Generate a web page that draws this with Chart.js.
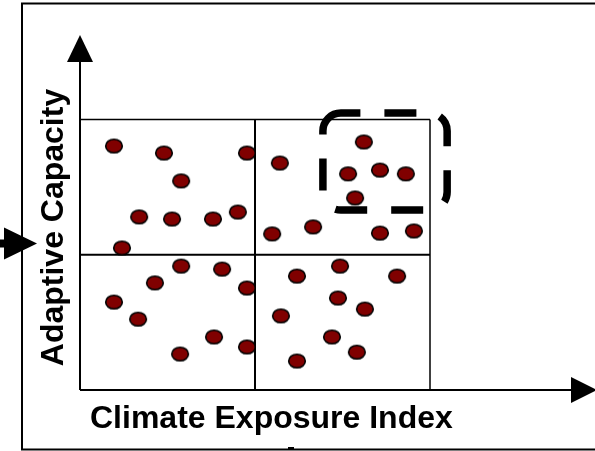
<!DOCTYPE html>
<html>
<head>
<meta charset="utf-8">
<script src="https://cdn.jsdelivr.net/npm/chart.js@4"></script>
<style>
  body { margin: 0; background: #fff; }
  canvas { display: block; }
</style>
</head>
<body>
<canvas id="chart" width="595" height="451"></canvas>
<script>
// Points: climate exposure (x) vs adaptive capacity (y), both on a 0-10 scale
const exposure = [
    0.97, 2.40, 4.77, 2.89, 1.69, 2.63, 3.80, 4.51, 1.20,
    5.71, 8.11, 7.66, 8.57, 9.31, 7.86, 6.66, 5.49, 8.57, 9.54,
    2.89, 4.06, 2.14, 4.77, 0.97, 1.66, 3.83, 4.77, 2.86,
    6.20, 7.43, 9.06, 7.37, 8.14, 5.74, 7.20, 7.91, 6.20
];
const capacity = [
    9.02, 8.76, 8.76, 7.73, 6.40, 6.32, 6.32, 6.58, 5.25,
    8.39, 9.17, 7.99, 8.13, 7.99, 7.10, 6.03, 5.77, 5.80, 5.88,
    4.58, 4.47, 3.96, 3.77, 3.25, 2.62, 1.96, 1.59, 1.33,
    4.21, 4.58, 4.21, 3.40, 2.99, 2.74, 1.96, 1.40, 1.07
];
const quadrantBreaks = [0, 5, 10];
const highlight = { x0: 6.94, x1: 10.49, y0: 6.65, y1: 10.24 }; // dashed box, data units

const xTitle = 'Climate Exposure Index';
const yTitle = 'Adaptive Capacity';

// ellipse marker
const dot = document.createElement('canvas');
dot.width = 20;
dot.height = 17;
const dctx = dot.getContext('2d');
dctx.beginPath();
dctx.ellipse(10, 8.5, 8.3, 6.8, 0, 0, Math.PI * 2);
dctx.fillStyle = '#800000';
dctx.fill();
dctx.lineWidth = 1.6;
dctx.strokeStyle = '#000';
dctx.stroke();

function arrowHead(ctx, tip, b1, b2) {
    ctx.beginPath();
    ctx.moveTo(tip[0], tip[1]);
    ctx.lineTo(b1[0], b1[1]);
    ctx.lineTo(b2[0], b2[1]);
    ctx.closePath();
    ctx.fill();
}

const quadrants = {
    id: 'quadrants',
    beforeDatasetsDraw(chart) {
        const ctx = chart.ctx;
        const xs = chart.scales.x, ys = chart.scales.y;
        ctx.save();
        ctx.strokeStyle = '#000';
        quadrantBreaks.forEach((v, i) => {
            ctx.lineWidth = i === 1 ? 2 : 1.5;
            const px = xs.getPixelForValue(v);
            ctx.beginPath();
            ctx.moveTo(px, ys.getPixelForValue(0));
            ctx.lineTo(px, ys.getPixelForValue(10));
            ctx.stroke();
            const py = ys.getPixelForValue(v);
            ctx.beginPath();
            ctx.moveTo(xs.getPixelForValue(0), py);
            ctx.lineTo(xs.getPixelForValue(10), py);
            ctx.stroke();
        });
        ctx.restore();
    },
    afterDraw(chart) {
        const ctx = chart.ctx;
        const xs = chart.scales.x, ys = chart.scales.y;
        const ox = xs.getPixelForValue(0), oy = ys.getPixelForValue(0);
        ctx.save();
        ctx.strokeStyle = '#000';
        ctx.fillStyle = '#000';

        // outer frame
        ctx.lineWidth = 2;
        ctx.beginPath();
        ctx.moveTo(600, 3.5);
        ctx.lineTo(22, 3.5);
        ctx.lineTo(22, 449.5);
        ctx.lineTo(600, 449.5);
        ctx.stroke();
        ctx.fillRect(288, 447, 6, 2);

        // axes with arrows
        ctx.lineWidth = 2;
        ctx.beginPath();
        ctx.moveTo(ox, oy);
        ctx.lineTo(ox, 60);
        ctx.moveTo(ox, oy);
        ctx.lineTo(572, oy);
        ctx.stroke();
        arrowHead(ctx, [ox, 35], [ox - 13, 62], [ox + 13, 62]);
        arrowHead(ctx, [597, oy], [571, oy - 13], [571, oy + 13]);

        // side arrow
        ctx.fillRect(0, 239.5, 6, 8);
        arrowHead(ctx, [37, 243.5], [4, 227.5], [4, 259.5]);

        // dashed highlight
        const bx = xs.getPixelForValue(highlight.x0), bx1 = xs.getPixelForValue(highlight.x1);
        const by = ys.getPixelForValue(highlight.y1), by1 = ys.getPixelForValue(highlight.y0);
        ctx.lineWidth = 7.5;
        ctx.setLineDash([32, 24]);
        ctx.lineDashOffset = 12.5;
        ctx.beginPath();
        ctx.roundRect(bx, by, bx1 - bx, by1 - by, 18);
        ctx.stroke();
        ctx.setLineDash([]);

        // titles
        ctx.font = 'bold 32px "Liberation Sans", Arial, sans-serif';
        ctx.textBaseline = 'alphabetic';
        ctx.textAlign = 'left';
        ctx.fillText(xTitle, 90, 428);
        ctx.translate(63, 227.5);
        ctx.rotate(-Math.PI / 2);
        ctx.textAlign = 'center';
        ctx.fillText(yTitle, 0, 0);
        ctx.restore();
    }
};

new Chart(document.getElementById('chart'), {
    type: 'scatter',
    data: {
        datasets: [{
            data: exposure.map((x, i) => ({ x: x, y: capacity[i] })),
            pointStyle: dot,
            pointRadius: 9,
        }],
    },
    options: {
        responsive: false,
        animation: false,
        events: [],
        layout: { padding: { left: 80, right: 165, top: 119.5, bottom: 61 } },
        plugins: { legend: { display: false }, tooltip: { enabled: false } },
        scales: {
            x: { type: 'linear', min: 0, max: 10, display: false },
            y: { type: 'linear', min: 0, max: 10, display: false },
        },
    },
    plugins: [quadrants],
});
</script>
</body>
</html>
